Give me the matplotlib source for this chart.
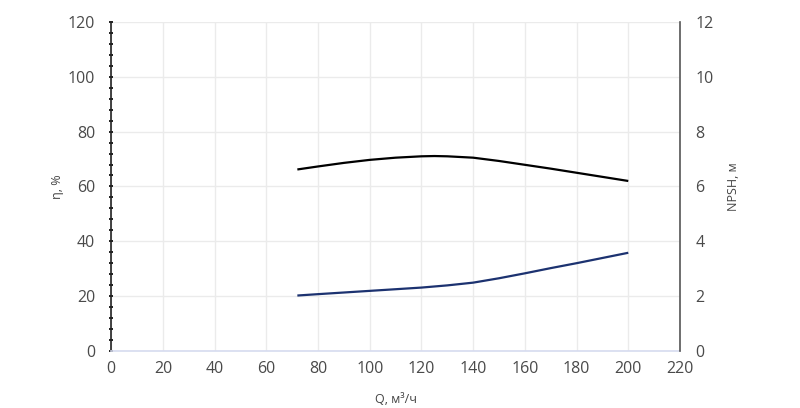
import matplotlib
matplotlib.use("Agg")
import matplotlib.pyplot as plt
from matplotlib.ticker import MultipleLocator

plt.rcParams['font.family'] = ['Open Sans', 'DejaVu Sans']

# flow, m3/h
q_eff = [72, 80, 90, 100, 110, 120, 125, 130, 140, 150, 160, 170, 180, 190, 200]
# efficiency, %
eff = [66.2, 67.3, 68.6, 69.7, 70.5, 71.0, 71.1, 71.0, 70.5, 69.3, 67.9, 66.5, 65.0, 63.5, 62.0]

q_npsh = [72, 80, 90, 100, 110, 120, 130, 140, 150, 160, 170, 180, 190, 200]
# NPSH, m
npsh = [2.02, 2.07, 2.13, 2.19, 2.25, 2.31, 2.39, 2.49, 2.65, 2.83, 3.02, 3.20, 3.39, 3.58]

x_ticks = list(range(0, 221, 20))
eff_ticks = list(range(0, 121, 20))
npsh_ticks = list(range(0, 13, 2))

fig = plt.figure(figsize=(8, 4.08), dpi=100)
ax = fig.add_axes([0.139, 0.14, 0.711, 0.806])
ax2 = ax.twinx()

ax.plot(q_eff, eff, color='black', lw=1.6, solid_capstyle='butt')
ax2.plot(q_npsh, npsh, color='#1c3270', lw=1.6, solid_capstyle='butt')

ax.set_xlim(0, 220)
ax.set_ylim(0, 120)
ax2.set_ylim(0, 12)
ax.set_xticks(x_ticks)
ax.set_yticks(eff_ticks)
ax2.set_yticks(npsh_ticks)
ax.yaxis.set_minor_locator(MultipleLocator(4))

ax.grid(True, color='#ebebeb', lw=1)
ax.set_axisbelow(True)

for a in (ax, ax2):
    for s in a.spines.values():
        s.set_visible(False)
ax.spines['left'].set_visible(True)
ax.spines['left'].set_color('#222222')
ax.spines['left'].set_linewidth(1.2)
ax.spines['bottom'].set_visible(True)
ax.spines['bottom'].set_color('#d6dbef')
ax.spines['bottom'].set_linewidth(1.2)
ax2.spines['right'].set_visible(True)
ax2.spines['right'].set_color('#555555')
ax2.spines['right'].set_linewidth(1.2)

ax.tick_params(axis='x', length=0, pad=7, labelsize=11.5, labelcolor='#4a4a4a')
ax.tick_params(axis='y', which='major', length=3, width=1.4, direction='inout',
               color='#222222', pad=10, labelsize=11.5, labelcolor='#4a4a4a')
ax.tick_params(axis='y', which='minor', length=3, width=1.4, direction='inout',
               color='#222222')
ax2.tick_params(axis='y', length=0, pad=11, labelsize=11.5, labelcolor='#4a4a4a')

ax.set_xlabel('Q, м³/ч', fontsize=9, color='#444444', labelpad=12)
ax.set_ylabel('η, %', fontsize=9, color='#444444', labelpad=3)
ax2.set_ylabel('NPSH, м', fontsize=9, color='#444444', labelpad=10)

fig.savefig('out.png', dpi=100)
